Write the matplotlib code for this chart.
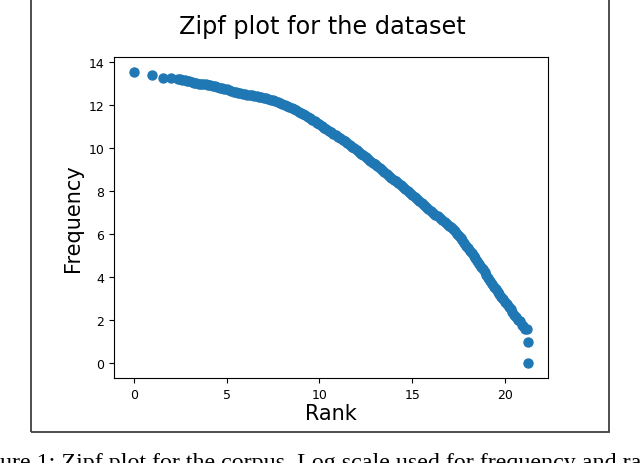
import matplotlib
matplotlib.use("Agg")
import matplotlib.pyplot as plt
from matplotlib.patches import Rectangle

# log rank / log frequency
log_rank = [0.0, 1.0, 1.56, 2.0, 2.36,
            2.5, 2.625, 2.75, 2.875, 3.0, 3.125, 3.25, 3.375, 3.5, 3.625, 3.75, 3.875,
            4.0, 4.125, 4.25, 4.375, 4.5, 4.625, 4.75, 4.875, 5.0, 5.125, 5.25, 5.375,
            5.5, 5.625, 5.75, 5.875, 6.0, 6.125, 6.25, 6.375, 6.5, 6.625, 6.75, 6.875,
            7.0, 7.125, 7.25, 7.375, 7.5, 7.625, 7.75, 7.875, 8.0, 8.125, 8.25, 8.375,
            8.5, 8.625, 8.75, 8.875, 9.0, 9.125, 9.25, 9.375, 9.5, 9.625, 9.75, 9.875,
            10.0, 10.125, 10.25, 10.375, 10.5, 10.625, 10.75, 10.875, 11.0, 11.125, 11.25, 11.375,
            11.5, 11.625, 11.75, 11.875, 12.0, 12.125, 12.25, 12.375, 12.5, 12.625, 12.75, 12.875,
            13.0, 13.125, 13.25, 13.375, 13.5, 13.625, 13.75, 13.875, 14.0, 14.125, 14.25, 14.375,
            14.5, 14.625, 14.75, 14.875, 15.0, 15.125, 15.25, 15.375, 15.5, 15.625, 15.75, 15.875,
            16.0, 16.125, 16.25, 16.375, 16.5, 16.625, 16.75, 16.875, 17.0,
            17.1, 17.2, 17.3, 17.4, 17.5, 17.6, 17.7, 17.8, 17.9, 18.0,
            18.1, 18.2, 18.3, 18.4, 18.5, 18.6, 18.7, 18.8, 18.9, 19.0,
            19.1, 19.2, 19.3, 19.4, 19.5, 19.6, 19.7, 19.8, 19.9, 20.0,
            20.1, 20.2, 20.3, 20.4, 20.5, 20.6, 20.7, 20.8, 20.9, 20.95,
            21.05, 21.2, 21.25, 21.25]
log_freq = [13.57, 13.41, 13.28, 13.25, 13.24,
            13.21, 13.19, 13.16, 13.14, 13.11, 13.08, 13.06, 13.03, 13.01, 12.99, 12.98, 12.97,
            12.96, 12.94, 12.92, 12.89, 12.86, 12.83, 12.80, 12.77, 12.74, 12.70, 12.67, 12.64,
            12.61, 12.59, 12.57, 12.55, 12.53, 12.50, 12.48, 12.46, 12.44, 12.42, 12.40, 12.38,
            12.35, 12.33, 12.30, 12.27, 12.24, 12.20, 12.15, 12.11, 12.06, 12.02, 11.97, 11.93,
            11.88, 11.83, 11.77, 11.71, 11.65, 11.59, 11.53, 11.47, 11.40, 11.33, 11.26, 11.19,
            11.11, 11.03, 10.96, 10.89, 10.82, 10.75, 10.68, 10.60, 10.53, 10.46, 10.39, 10.32,
            10.24, 10.16, 10.08, 10.00, 9.92, 9.84, 9.76, 9.68, 9.59, 9.51, 9.42, 9.34,
            9.25, 9.17, 9.08, 9.00, 8.91, 8.82, 8.73, 8.64, 8.55, 8.46, 8.37, 8.28,
            8.19, 8.10, 8.01, 7.92, 7.82, 7.73, 7.64, 7.55, 7.45, 7.36, 7.27, 7.18,
            7.09, 7.00, 6.92, 6.84, 6.76, 6.67, 6.58, 6.49, 6.40,
            6.32, 6.23, 6.14, 6.04, 5.94, 5.83, 5.72, 5.60, 5.48, 5.36,
            5.24, 5.12, 5.00, 4.88, 4.76, 4.63, 4.50, 4.37, 4.24, 4.10,
            3.96, 3.82, 3.70, 3.57, 3.45, 3.33, 3.21, 3.10, 2.98, 2.87,
            2.75, 2.64, 2.52, 2.40, 2.27, 2.15, 2.02, 1.95, 1.80, 1.75,
            1.60, 1.60, 1.00, 0.0]

fig = plt.figure(figsize=(6.4, 4.64), dpi=100)
ax = fig.add_axes([114/640, 85/464, 434/640, 321/464])

ax.scatter(log_rank, log_freq, s=42, color="#1f77b4")
ax.tick_params(labelsize=9)
ax.set_xlabel("Rank", fontsize=15, labelpad=2)
ax.set_ylabel("Frequency", fontsize=15)

fig.suptitle("Zipf plot for the dataset", fontsize=17.3, x=322/640, y=1 - 15/464, va="top")

# marco del figure dentro del documento
fig.patches.append(Rectangle((31/640, 31/464), 578/640, 440/464, transform=fig.transFigure,
                             fill=False, edgecolor="#404040", linewidth=1.3))

# pie de figura, cortado como en la referencia
fig.text(-32/640, -5/464, "Figure 1: Zipf plot for the corpus. Log scale used for frequency and rank.",
         fontsize=17.3, family="Liberation Serif", va="baseline", ha="left")

fig.savefig("out.png", dpi=100)
